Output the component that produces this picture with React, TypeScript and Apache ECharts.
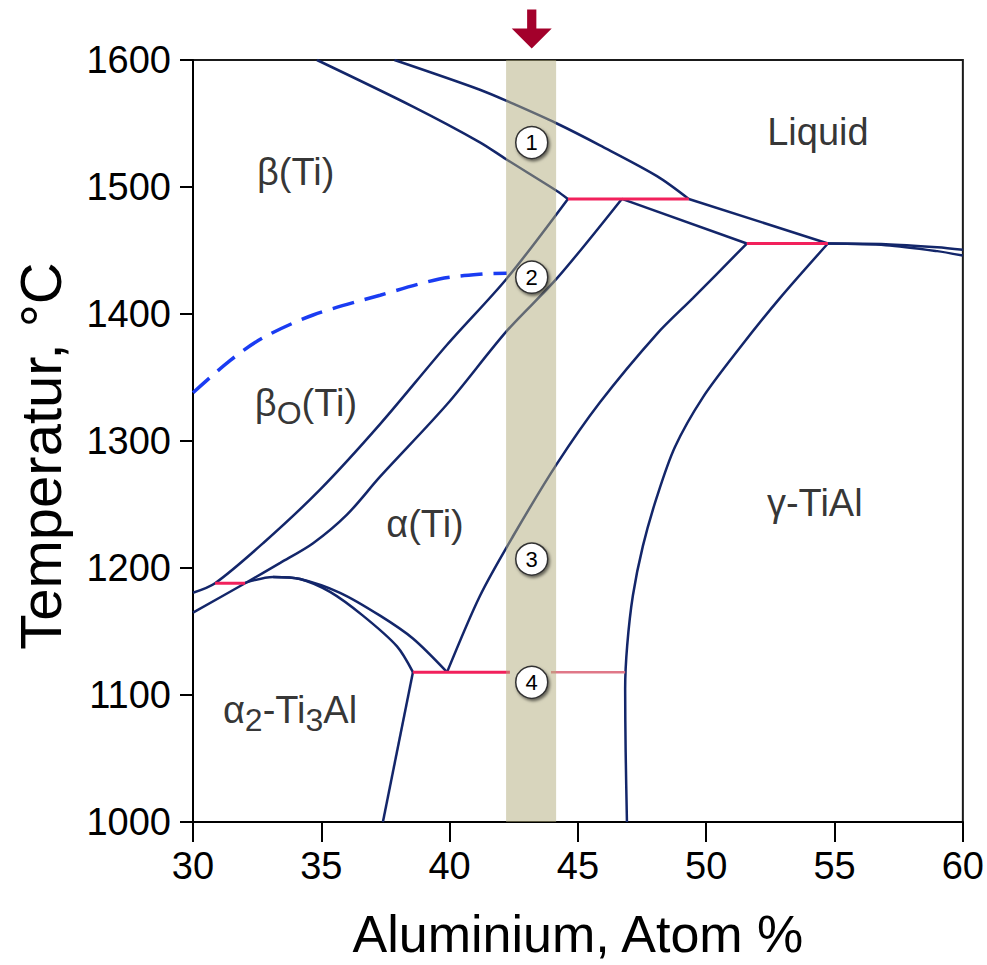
import React, { useEffect, useRef } from 'react';
import * as echarts from 'echarts';

// ---- Data (Al at.%, Temperature °C) ----
const liquidusBeta = [[37.85, 1600], [41.18, 1576.6], [42.47, 1565.6], [44.18, 1550], [45.86, 1532.8], [48.08, 1508.6], [49.32, 1490.6]];
const liquidusAlpha = [[49.32, 1490.6], [54.74, 1455.5]];
const liquidusRightA = [[54.74, 1455.5], [57, 1455], [59, 1452.5], [60, 1450.5]];
const liquidusRightB = [[54.74, 1455.5], [57, 1454.2], [59, 1449.5], [60, 1446]];
const solidusBeta = [[34.83, 1600], [38.57, 1563.3], [41.18, 1535.2], [42.2, 1521.9], [44.18, 1496.9], [44.61, 1490.6]];
const betaTransus = [[44.61, 1490.6], [42.23, 1428], [39.9, 1375.8], [37.29, 1313.3], [34.95, 1261.7], [32.73, 1219.5], [30.86, 1188], [30, 1180.5]];
const alphaTransus = [[46.71, 1490.6], [44.18, 1428], [42.23, 1386.7], [39.9, 1328.9], [37.29, 1271.9], [36.0, 1242], [34.68, 1219.5], [33.4, 1204], [32.03, 1188], [30, 1164.8]];
const alphaSolidus = [[46.71, 1490.6], [51.58, 1455.5]];
const alphaGammaLeft = [[51.58, 1455.5], [49.48, 1412.5], [48.08, 1384.4], [45.86, 1330.5], [44.18, 1282], [42.47, 1225], [41.18, 1178], [39.9, 1118]];
const gammaBoundary = [[54.74, 1455.5], [52.87, 1412.5], [51.31, 1373.4], [49.87, 1334.4], [48.78, 1295.3], [48.08, 1256.2], [47.53, 1217.2], [47.14, 1178.1], [46.92, 1139], [46.84, 1105], [46.86, 1055], [46.91, 1000]];
const alpha2DomeOuter = [[32.03, 1188.3], [33.12, 1193], [34.17, 1191.4], [35.34, 1181.2], [36.62, 1162.5], [37.95, 1138.3], [38.57, 1118]];
const alpha2DomeInner = [[33.12, 1193], [34.17, 1191.4], [35.73, 1180.5], [37.29, 1162.5], [38.57, 1144.5], [39.9, 1118]];
const alpha2Boundary = [[38.57, 1118], [37.4, 1000]];
const orderedBeta = [[30, 1338], [31.44, 1363.3], [32.73, 1381.3], [34.68, 1399.2], [37.29, 1414.8], [39.6, 1427.5], [41.3, 1431.5], [42.23, 1432]];

const peritectic1 = [[44.61, 1490.6], [49.32, 1490.6]];
const peritectic2 = [[51.58, 1455.5], [54.74, 1455.5]];
const eutectoidLow = [[30.86, 1188], [32.03, 1188]];
const eutectoidRed = [[38.57, 1118], [42.35, 1118]];
const eutectoidPink = [[43.95, 1118], [46.84, 1118]];

const bandRange = [42.2, 44.15];
const markerX = 43.2;
const arrowT = 1624.5;
const circleLabels = ['1', '2', '3', '4'];
const circleT = [1535, 1429, 1207, 1110];

const regionNames = ['β(Ti)', 'Liquid', 'β_O(Ti)', 'α(Ti)', 'α_2-Ti_3Al', 'γ-TiAl'];
const regionX = [34.0, 54.35, 34.4, 39.04, 33.78, 54.23];
const regionT = [1512, 1543, 1330, 1235, 1088, 1251];

const xMin = 30, xMax = 60, xStep = 5;
const yMin = 1000, yMax = 1600, yStep = 100;

const FONT = '"Liberation Sans", Arial, Helvetica, sans-serif';
const NAVY = '#13266a';
const RED = '#f2215c';
const PINK = '#e07888';

function toRich(s: string): string {
  let out = '';
  let buf = '';
  for (let i = 0; i < s.length; i++) {
    if (s[i] === '_' && i + 1 < s.length) {
      if (buf) { out += '{m|' + buf + '}'; buf = ''; }
      out += '{s|' + s[i + 1] + '}';
      i++;
    } else {
      buf += s[i];
    }
  }
  if (buf) out += '{m|' + buf + '}';
  return out;
}

function curve(name: string, data: number[][], color = NAVY, width = 2.5, smooth: number | boolean = 0.3, extra: any = {}) {
  return {
    type: 'line',
    name,
    data,
    showSymbol: false,
    symbol: 'none',
    smooth,
    silent: true,
    z: 2,
    lineStyle: { color, width, ...extra },
  };
}

export default function App() {
  const ref = useRef<HTMLDivElement>(null);
  useEffect(() => {
    document.body.style.margin = '0';
    if (!ref.current) return;
    const chart = echarts.init(ref.current, undefined, { renderer: 'svg' });
    const option: any = {
      animation: false,
      backgroundColor: '#ffffff',
      grid: {
        left: 193, top: 60, width: 770, height: 768,
        show: true, borderColor: '#1a1a1a', borderWidth: 2, backgroundColor: 'transparent',
      },
      xAxis: {
        type: 'value', min: xMin, max: xMax, interval: xStep,
        name: 'Aluminium, Atom %', nameLocation: 'middle', nameGap: 86,
        nameTextStyle: { fontSize: 52, color: '#000', fontFamily: FONT },
        axisLine: { show: true, lineStyle: { color: '#000', width: 2 } },
        axisTick: { show: true, length: 20, lineStyle: { color: '#000', width: 2 } },
        axisLabel: { fontSize: 38, color: '#000', fontFamily: FONT, margin: 25, formatter: (v: number) => String(v) },
        splitLine: { show: false },
      },
      yAxis: {
        type: 'value', min: yMin, max: yMax, interval: yStep,
        name: 'Temperatur, °C', nameLocation: 'middle', nameGap: 124,
        nameTextStyle: { fontSize: 58, color: '#000', fontFamily: FONT, padding: [0, 30, 0, 0] },
        axisLine: { show: true, lineStyle: { color: '#000', width: 2 } },
        axisTick: { show: true, length: 13, lineStyle: { color: '#000', width: 2 } },
        axisLabel: { fontSize: 38, color: '#000', fontFamily: FONT, margin: 22, formatter: (v: number) => String(v) },
        splitLine: { show: false },
      },
      series: [
        curve('liquidusBeta', liquidusBeta),
        curve('liquidusAlpha', liquidusAlpha, NAVY, 2.5, false),
        curve('liquidusRightA', liquidusRightA),
        curve('liquidusRightB', liquidusRightB),
        curve('solidusBeta', solidusBeta),
        curve('betaTransus', betaTransus),
        curve('alphaTransus', alphaTransus),
        curve('alphaSolidus', alphaSolidus, NAVY, 2.5, false),
        curve('alphaGammaLeft', alphaGammaLeft),
        curve('gammaBoundary', gammaBoundary),
        curve('alpha2DomeOuter', alpha2DomeOuter),
        curve('alpha2DomeInner', alpha2DomeInner),
        curve('alpha2Boundary', alpha2Boundary, NAVY, 2.5, false),
        curve('orderedBeta', orderedBeta, '#1a3cf2', 3.5, 0.3, { type: [22, 11] }),
        curve('peritectic1', peritectic1, RED, 3, false),
        curve('peritectic2', peritectic2, RED, 3, false),
        curve('eutectoidLow', eutectoidLow, RED, 3, false),
        curve('eutectoidRed', eutectoidRed, RED, 3, false),
        curve('eutectoidPink', eutectoidPink, PINK, 2.5, false),
        {
          type: 'line', name: 'band', data: [], z: 3, silent: true,
          markArea: {
            silent: true, z: 3,
            itemStyle: { color: '#b1ab7b', opacity: 0.5 },
            data: [[{ xAxis: bandRange[0] }, { xAxis: bandRange[1] }]],
          },
        },
        {
          type: 'scatter', name: 'regions', z: 8, silent: true,
          symbolSize: 0,
          data: regionNames.map((n, i) => ({ name: n, value: [regionX[i], regionT[i]] })),
          label: {
            show: true, position: 'inside',
            formatter: (p: any) => toRich(p.name),
            rich: {
              m: { fontSize: 38, color: '#000', fontFamily: FONT },
              s: { fontSize: 32, color: '#000', fontFamily: FONT, padding: [20, 0, 0, 0] },
            },
          },
        },
        {
          type: 'scatter', name: 'steps', z: 10, silent: true,
          symbol: 'circle', symbolSize: 32,
          itemStyle: {
            color: '#ffffff', opacity: 1, borderColor: '#333', borderWidth: 1.5,
            shadowBlur: 3, shadowOffsetX: 1.5, shadowOffsetY: 2, shadowColor: 'rgba(0,0,0,0.55)',
          },
          data: circleLabels.map((n, i) => ({ name: n, value: [markerX, circleT[i]] })),
          label: {
            show: true, position: 'inside', formatter: (p: any) => p.name,
            fontSize: 22, color: '#000', fontFamily: FONT,
          },
        },
        {
          type: 'scatter', name: 'arrow', z: 10, silent: true, clip: false,
          symbol: 'path://M16,0 L25,0 L25,19 L40,19 L20.5,39 L1,19 L16,19 Z',
          symbolSize: [40, 39],
          itemStyle: { color: '#a3002b', opacity: 1 },
          data: [[markerX, arrowT]],
        },
      ],
    };
    chart.setOption(option);
    return () => chart.dispose();
  }, []);
  return <div ref={ref} style={{ width: 987, height: 965 }} />;
}
